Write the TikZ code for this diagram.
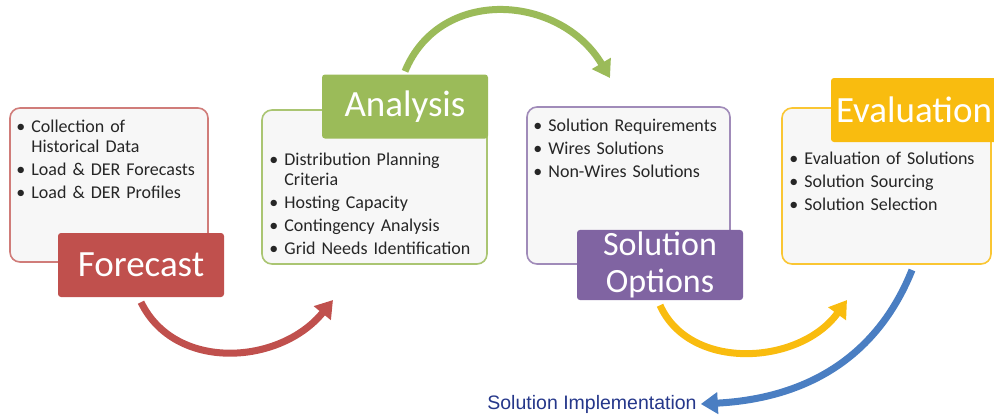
\documentclass[tikz,border=0pt]{standalone}
\usepackage{fontspec}
\setmainfont{Carlito}
\newfontfamily\implfont{Liberation Sans}
\usepackage{xcolor}
\usepackage{tikz}
\usetikzlibrary{positioning, arrows.meta}
\definecolor{fcred}{HTML}{C0504D}
\definecolor{angreen}{HTML}{9BBB59}
\definecolor{sopurple}{HTML}{8064A2}
\definecolor{evgold}{HTML}{F9BC0F}
\definecolor{implblue}{HTML}{4A7EC2}
\definecolor{impltext}{HTML}{25378A}
\definecolor{boxfill}{HTML}{F7F7F7}
\definecolor{bodytext}{HTML}{262626}
\newcommand{\blt}[1]{\par\noindent\hangindent=15pt\hangafter=1\makebox[15pt][l]{\textbullet}#1}

\begin{document}
\begin{tikzpicture}[x=1pt, y=-1pt,
    listbox/.style={draw=#1, line width=1.6pt, fill=boxfill, rounded corners=10pt},
    titlebox/.style={fill=#1, rounded corners=3pt, text=white, inner sep=2pt,
      minimum width=166pt, minimum height=64pt, align=center,
      font=\fontsize{37}{39}\selectfont},
    bullets/.style={text width=210pt, inner sep=0pt, align=left, text=bodytext,
      font=\fontsize{18}{20.5}\selectfont\setlength{\parskip}{2.5pt}},
    flow/.style={line width=7pt, draw=#1, -{Triangle[length=17pt, width=21pt]}}]
  \useasboundingbox (0,0) rectangle (994,416);

  % content boxes
  \node[listbox=fcred!75, minimum width=198pt, minimum height=154pt] (fcbox) at (109,185) {};
  \node[listbox=angreen!85, minimum width=225pt, minimum height=154pt] (anbox) at (374.5,187) {};
  \node[listbox=sopurple!75, minimum width=203pt, minimum height=157pt] (sobox) at (628.5,185.5) {};
  \node[listbox=evgold!85, minimum width=209pt, minimum height=156pt] (evbox) at (886.5,186) {};

  \node[bullets, below right=2pt and 7pt of fcbox.north west] (fclist) {%
    \blt{Collection of\newline Historical Data}
    \blt{Load \& DER Forecasts}
    \blt{Load \& DER Profiles}};
  \node[bullets, below right=33pt and 8pt of anbox.north west] (anlist) {%
    \blt{Distribution Planning\newline Criteria}
    \blt{Hosting Capacity}
    \blt{Contingency Analysis}
    \blt{Grid Needs Identification}};
  \node[bullets, below right=2pt and 7pt of sobox.north west] (solist) {%
    \blt{Solution Requirements}
    \blt{Wires Solutions}
    \blt{Non-Wires Solutions}};
  \node[bullets, below right=34pt and 8pt of evbox.north west] (evlist) {%
    \blt{Evaluation of Solutions}
    \blt{Solution Sourcing}
    \blt{Solution Selection}};

  % step titles
  \node[titlebox=fcred] (forecast) at (141,265) {Forecast};
  \node[titlebox=angreen] (analysis) at (405,106.5) {Analysis};
  \node[titlebox=sopurple, font=\fontsize{34}{37}\selectfont] (options) at (660,265) {Solution\\Options};
  \node[titlebox=evgold] (evaluation) at (914,110) {Evaluation};

  \node[text=impltext, inner sep=4pt, font=\implfont\fontsize{19.5}{22}\selectfont] (simpl) at (592,404) {Solution Implementation};

  % arrows
  \coordinate (fcend) at (333,300);
  \coordinate (anend) at (610,78);
  \coordinate (soend) at (847,300);
  \coordinate (evstart) at (912,270);

  \draw[flow=fcred] ([yshift=-5pt]forecast.south) .. controls (175,372) and (280,365) .. (fcend);
  \draw[flow=angreen] ([yshift=3pt]analysis.north) .. controls (440,-14) and (560,-6) .. (anend);
  \draw[flow=evgold] ([yshift=-5pt]options.south) .. controls (690,372) and (800,365) .. (soend);
  \draw[flow=implblue] (evstart) .. controls (880,350) and (815,398) .. (simpl.east);
\end{tikzpicture}
\end{document}
